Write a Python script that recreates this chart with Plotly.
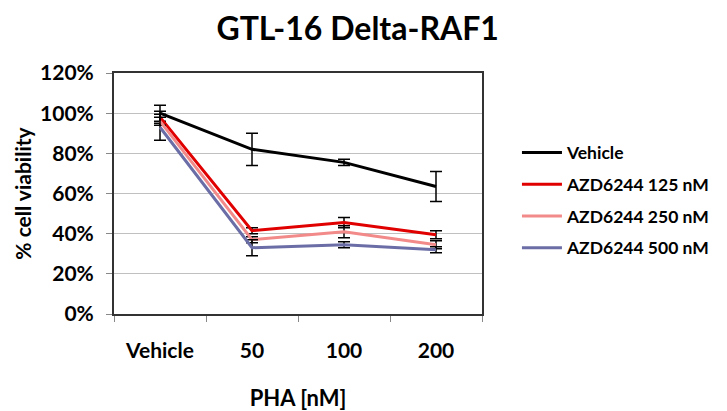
import plotly.graph_objects as go

categories = ["Vehicle", "50", "100", "200"]
series_names = ["Vehicle", "AZD6244 125 nM", "AZD6244 250 nM", "AZD6244 500 nM"]
vehicle = [100, 82, 75.5, 63.5]
vehicle_err = [4, 8, 1.5, 7.5]
azd125 = [98, 41.5, 45.5, 39.5]
azd125_err = [3, 1.5, 2.5, 2]
azd250 = [96, 37, 41, 34.5]
azd250_err = [2, 1.5, 3, 2]
azd500 = [93, 33, 34.5, 32]
azd500_err = [6.5, 4, 1.5, 1.5]
y_ticks = [0, 20, 40, 60, 80, 100, 120]

colors = ["#000000", "#e00000", "#f28a8a", "#6b6ea6"]
values = [vehicle, azd125, azd250, azd500]
errs = [vehicle_err, azd125_err, azd250_err, azd500_err]

FONT = "Lato"
fig = go.Figure()
for i, (name, v, e, c) in enumerate(zip(series_names, values, errs, colors)):
    fig.add_trace(go.Scatter(
        x=categories, y=v, mode="lines", name=name,
        line=dict(color=c, width=3),
        error_y=dict(type="data", array=e, visible=True, color="#000000",
                     thickness=1.5, width=6),
        legendgroup=f"g{i}",
    ))

fig.update_layout(
    width=727, height=411,
    margin=dict(l=114, r=239, t=73, b=97),
    paper_bgcolor="white", plot_bgcolor="white",
    font=dict(family=FONT, size=16, color="#000000", weight="bold"),
    title=dict(text="GTL-16 Delta-RAF1", x=0.492, xref="container", xanchor="center",
               y=0.929, yref="container", yanchor="middle",
               font=dict(family=FONT, size=32, color="#000000", weight="bold")),
    showlegend=True,
    legend=dict(x=1.095, xanchor="left", y=0.473, yanchor="middle",
                font=dict(family=FONT, size=17.5, color="#000000", weight="bold"),
                tracegroupgap=6, bgcolor="rgba(0,0,0,0)", itemwidth=40),
)
fig.update_xaxes(
    type="category", categoryorder="array", categoryarray=categories,
    range=[-0.5, 3.5], tickson="boundaries", automargin=False,
    ticks="outside", ticklen=6, tickcolor="#888888", ticklabelstandoff=17,
    showline=True, linecolor="#333333", linewidth=2, mirror=True,
    showgrid=False,
    tickfont=dict(family=FONT, size=21, color="#000000", weight="bold"),
    title=dict(text="PHA [nM]", standoff=31,
               font=dict(family=FONT, size=22, color="#000000", weight="bold")),
)
fig.update_yaxes(
    range=[0, 120], tickvals=y_ticks, ticktext=[f"{t}%" for t in y_ticks],
    ticks="outside", ticklen=6, tickcolor="#888888", ticklabelstandoff=8,
    automargin=False,
    showline=True, linecolor="#333333", linewidth=2, mirror=True,
    showgrid=True, gridcolor="#c0c0c0", gridwidth=1.2,
    zeroline=False,
    tickfont=dict(family=FONT, size=21, color="#000000", weight="bold"),
    title=dict(text="% cell viability", standoff=3,
               font=dict(family=FONT, size=21, color="#000000", weight="bold")),
)

fig.write_html("out.html")
